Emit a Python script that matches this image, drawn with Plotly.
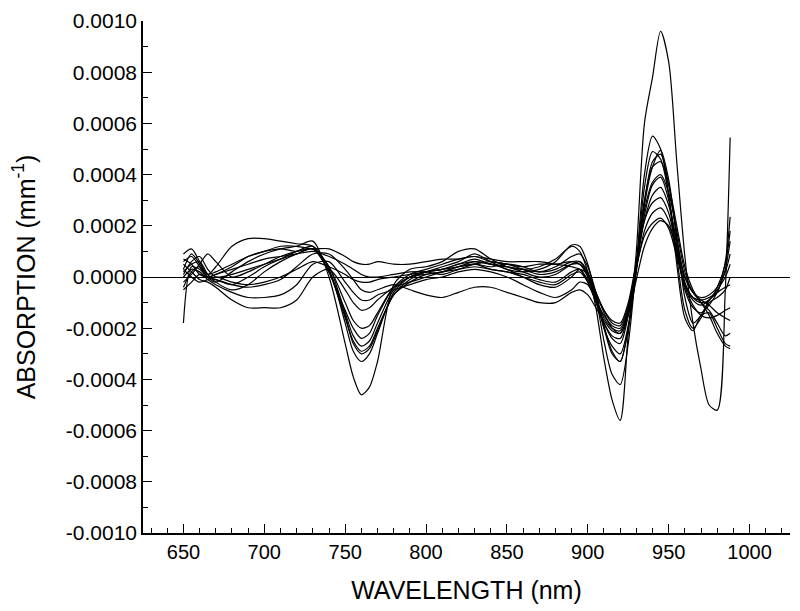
import plotly.graph_objects as go

# Wavelength grid (nm) shared by all spectra
WAVELENGTH = [650, 655, 660, 665, 670, 680, 690, 700, 710, 720, 730, 740, 750, 755, 760, 765, 770,
              780, 790, 800, 810, 820, 830, 840, 850, 860, 870, 880, 890,
              895, 900, 905, 910, 915, 920, 925, 930, 935, 940, 945, 950, 955, 960, 965, 970, 975, 980, 985, 988]

# Absorption values in units of 1e-4 mm^-1
SCALE = 1e-4
S1 = [0.3, 0.9, 0.5, 0.0, -0.2, 0.2, 0.6, 0.9, 1.1, 1.2, 1.4, 0.0, -2.6, -3.9, -4.6, -4.3, -3.3, -0.3, 0.3, 0.4, 0.6, 1.0, 1.1, 0.7, 0.4, 0.3, 0.4, 0.7, 1.2,
      1.0, 0.2, -1.2, -3.2, -4.8, -5.6, -2.2, 1.0, 6.0, 7.8, 9.6, 8.4, 4.5, 0.8, -1.8, -3.6, -5.0, -5.2, -0.5, 5.45]
S2 = [-1.8, 0.4, 0.3, 0.0, -0.1, -0.3, 0.0, 0.4, 0.7, 1.0, 1.2, 0.3, -1.8, -2.9, -3.3, -3.0, -2.2, -0.6, 0.0, 0.2, 0.4, 0.6, 0.9, 0.6, 0.3, 0.2, 0.3, 0.6, 1.25,
      1.2, 0.5, -0.8, -2.5, -3.8, -4.2, -2.6, 0.5, 4.0, 5.5, 5.0, 3.2, 0.5, -1.6, -2.1, -1.5, -1.4, -2.0, -2.6, -2.7]
S3 = [0.6, 0.8, 0.4, 0.0, 0.1, 0.4, 0.8, 1.0, 1.1, 1.0, 1.1, 0.2, -1.6, -2.5, -2.9, -2.7, -2.0, -0.7, -0.1, 0.2, 0.3, 0.5, 0.7, 0.5, 0.4, 0.3, 0.2, 0.4, 0.8,
      0.9, 0.4, -0.6, -1.9, -2.9, -3.3, -2.0, 0.2, 2.8, 4.3, 4.95, 3.8, 1.5, -0.8, -1.8, -1.5, -0.9, -0.6, 0.6, 2.35]
S4 = [0.2, 0.5, 0.6, 0.1, -0.2, -0.5, -0.3, 0.2, 0.6, 0.9, 1.1, 0.4, -1.4, -2.3, -2.7, -2.5, -1.8, -0.5, 0.0, 0.1, 0.2, 0.4, 0.5, 0.4, 0.5, 0.4, 0.2, 0.3, 0.6,
      0.6, 0.1, -0.8, -2.0, -2.7, -3.0, -1.9, 0.3, 2.9, 4.5, 4.8, 3.6, 1.6, -0.2, -0.8, -1.0, -0.9, -0.4, 0.5, 1.8]
S5 = [0.9, 1.1, 0.6, 0.1, 0.4, 1.2, 1.5, 1.5, 1.4, 1.3, 1.2, 0.2, -1.3, -2.0, -2.4, -2.2, -1.5, -0.4, 0.1, 0.3, 0.5, 0.7, 0.8, 0.6, 0.5, 0.3, 0.1, 0.2, 0.5,
      0.5, 0.0, -0.9, -1.8, -2.4, -2.6, -1.5, 0.5, 3.0, 4.3, 4.5, 3.6, 2.0, 0.4, -0.5, -1.0, -1.3, -1.8, -2.3, -2.2]
S6 = [0.5, 0.2, -0.1, -0.2, -0.4, -0.9, -1.2, -1.2, -1.2, -0.9, 0.0, 0.3, -0.5, -1.0, -1.3, -1.2, -0.9, -0.4, -0.2, 0.0, 0.2, 0.4, 0.6, 0.5, 0.3, 0.0, -0.3, -0.4, 0.0,
      0.3, 0.1, -0.6, -1.4, -2.0, -2.2, -1.4, 0.4, 2.4, 3.6, 3.9, 3.0, 1.2, -0.5, -1.2, -1.4, -1.1, -0.6, 0.3, 1.4]
S7 = [0.0, 0.3, 0.2, -0.1, -0.3, -0.6, -0.8, -0.8, -0.7, -0.3, 0.5, 0.6, -0.2, -0.6, -0.9, -0.9, -0.7, -0.5, -0.3, -0.1, 0.0, 0.2, 0.3, 0.2, 0.0, -0.3, -0.6, -0.8, -0.5,
      -0.2, -0.3, -0.9, -1.5, -1.9, -2.0, -1.2, 0.5, 2.2, 3.2, 3.5, 2.8, 1.4, 0.0, -0.6, -0.8, -0.7, -0.4, 0.2, 0.9]
S8 = [-0.4, 0.2, 0.4, 0.1, 0.2, 0.5, 0.8, 1.0, 1.2, 1.2, 1.1, 1.1, 0.8, 0.6, 0.5, 0.5, 0.6, 0.5, 0.5, 0.6, 0.7, 0.7, 0.8, 0.7, 0.6, 0.6, 0.6, 0.5, 0.4,
      0.3, -0.1, -0.7, -1.3, -1.7, -1.8, -1.0, 0.6, 2.2, 2.9, 3.1, 2.5, 1.0, -0.4, -1.1, -1.5, -1.6, -1.5, -1.3, -1.2]
S9 = [0.3, 0.0, -0.2, -0.1, 0.0, -0.2, -0.3, -0.2, 0.0, 0.3, 0.6, 0.4, 0.1, -0.1, -0.2, -0.2, -0.1, 0.0, 0.1, 0.2, 0.3, 0.4, 0.5, 0.3, 0.2, 0.0, -0.2, -0.3, 0.1,
      0.2, -0.2, -0.9, -1.6, -2.0, -2.1, -1.3, 0.3, 1.8, 2.5, 2.7, 2.2, 0.9, -0.3, -0.9, -1.1, -0.9, -0.5, 0.0, 0.5]
S10 = [0.7, 0.5, 0.1, 0.0, 0.1, 0.3, 0.5, 0.7, 0.8, 0.9, 1.0, 0.8, 0.5, 0.3, 0.1, 0.0, 0.0, 0.1, 0.2, 0.2, 0.1, 0.3, 0.5, 0.6, 0.5, 0.4, 0.5, 0.5, 0.6,
       0.5, 0.1, -0.6, -1.3, -1.8, -1.9, -1.1, 0.4, 1.6, 2.1, 2.3, 1.9, 0.8, -0.3, -0.8, -0.9, -0.8, -0.6, -0.4, -0.3]
S11 = [0.1, 0.6, 0.8, 0.3, 0.0, 0.1, 0.3, 0.5, 0.7, 0.9, 1.1, 0.2, -1.5, -2.6, -3.0, -2.8, -2.1, -0.7, -0.2, 0.1, 0.2, 0.3, 0.4, 0.3, 0.2, 0.1, -0.1, -0.2, 0.2,
       0.3, -0.2, -1.0, -1.8, -2.3, -2.4, -1.4, 0.5, 2.6, 3.7, 4.0, 3.3, 1.8, 0.2, -0.6, -1.0, -1.5, -2.2, -2.7, -2.8]
S12 = [-0.5, -0.2, 0.1, 0.0, -0.1, -0.3, -0.4, -0.3, -0.1, 0.4, 0.9, 0.9, 0.3, -0.1, -0.5, -0.6, -0.5, -0.3, -0.5, -0.7, -0.8, -0.6, -0.4, -0.4, -0.6, -0.8, -1.0, -1.0, -0.6,
       -0.5, -0.7, -1.2, -1.7, -2.1, -2.2, -1.5, -0.1, 1.2, 1.9, 2.2, 2.0, 1.1, 0.0, -0.6, -0.9, -1.1, -1.4, -1.6, -1.7]
S13 = [-0.2, 0.1, 0.5, 0.9, 0.6, 0.0, 0.2, 0.5, 0.8, 1.0, 1.1, 0.4, -1.0, -1.7, -2.0, -1.9, -1.4, -0.4, 0.0, 0.2, 0.3, 0.5, 0.6, 0.5, 0.4, 0.2, 0.0, 0.1, 0.5,
       0.6, 0.2, -0.8, -2.0, -3.0, -3.3, -2.0, 0.4, 3.5, 4.9, 4.6, 3.2, 0.8, -1.3, -2.0, -1.6, -1.0, -0.8, -0.5, 0.0]

SPECTRA = [S1, S2, S3, S4, S5, S6, S7, S8, S9, S10, S11, S12, S13]

X_TICKS = [650, 700, 750, 800, 850, 900, 950, 1000]
X_TICK_LABELS = ["650", "700", "750", "800", "850", "900", "950", "1000"]
Y_TICKS = [-0.0010, -0.0008, -0.0006, -0.0004, -0.0002, 0.0, 0.0002, 0.0004, 0.0006, 0.0008, 0.0010]
Y_TICK_LABELS = ["-0.0010", "-0.0008", "-0.0006", "-0.0004", "-0.0002", "0.0000",
                 "0.0002", "0.0004", "0.0006", "0.0008", "0.0010"]

FONT = "Liberation Sans, Arial, sans-serif"

fig = go.Figure()
for s in SPECTRA:
    fig.add_trace(go.Scatter(
        x=WAVELENGTH, y=[v * SCALE for v in s], mode="lines",
        line=dict(color="black", width=1.2, shape="spline", smoothing=0.8),
        showlegend=False, hoverinfo="skip"))

# The page body adds an 8 px offset, so the figure is sized to fit the window.
fig.update_layout(
    width=792, height=603,
    margin=dict(l=135, r=10, t=13, b=78),
    paper_bgcolor="white", plot_bgcolor="white",
    font=dict(family=FONT, color="black", size=20),
    showlegend=False,
)
fig.update_xaxes(
    range=[625, 1025], showgrid=False, zeroline=False, automargin=False,
    showline=True, linecolor="black", linewidth=1.5,
    tickmode="array", tickvals=X_TICKS, ticktext=X_TICK_LABELS,
    ticks="inside", ticklen=9, tickwidth=1.3, tickcolor="black",
    minor=dict(ticks="inside", ticklen=5, tickwidth=1.2, tickcolor="black", dtick=10, tick0=0, showgrid=False),
    tickfont=dict(family=FONT, size=20, color="black"),
    title=dict(text="WAVELENGTH (nm)", font=dict(family=FONT, size=25, color="black"), standoff=20),
)
fig.update_yaxes(
    range=[-0.0010, 0.0010], showgrid=False, automargin=False,
    zeroline=True, zerolinecolor="black", zerolinewidth=1.3,
    showline=True, linecolor="black", linewidth=1.5,
    tickmode="array", tickvals=Y_TICKS, ticktext=Y_TICK_LABELS,
    ticks="inside", ticklen=9, tickwidth=1.3, tickcolor="black",
    minor=dict(ticks="inside", ticklen=5, tickwidth=1.2, tickcolor="black", dtick=0.0001, tick0=0, showgrid=False),
    tickfont=dict(family=FONT, size=21, color="black"),
    title=dict(text="ABSORPTION (mm<sup>-1</sup>)", font=dict(family=FONT, size=25, color="black"), standoff=34),
)

fig.write_html("out.html")
